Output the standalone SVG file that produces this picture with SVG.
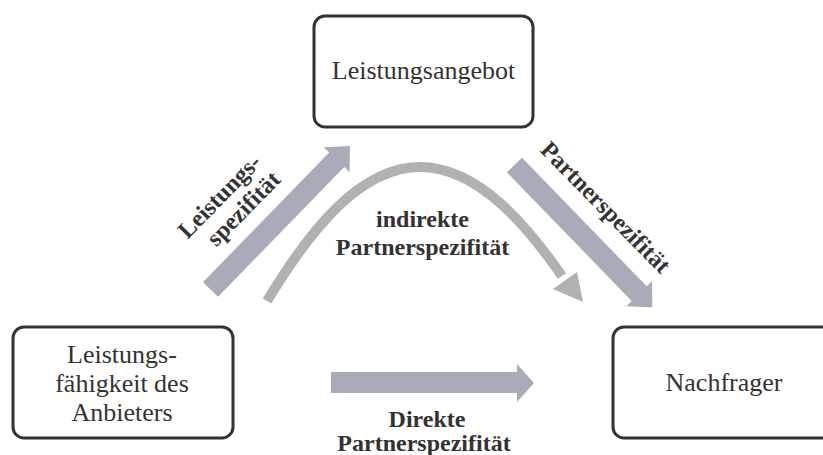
<svg xmlns="http://www.w3.org/2000/svg" width="823" height="455" viewBox="0 0 823 455">
  <style>
    .box { fill: #ffffff; stroke: #333333; stroke-width: 3; }
    .lbl { font-family: 'Liberation Serif', 'DejaVu Serif', 'Times New Roman', serif; font-size: 26px; fill: #333333; text-anchor: middle; }
    .bold { font-family: 'Liberation Serif', 'DejaVu Serif', 'Times New Roman', serif; font-size: 24px; font-weight: bold; fill: #333333; text-anchor: middle; }
    .flow { fill: #a9abb8; }
    .curve { fill: none; stroke: #b1b1b1; stroke-width: 10; }
  </style>
  <defs>
    <!-- block arrow along +x, tail at origin, length 200 -->
    <polygon id="blockArrow" points="0,-10.5 181,-10.5 181,-18 200,0 181,18 181,10.5 0,10.5"/>
  </defs>

  <rect width="823" height="455" fill="#ffffff"/>

  <g id="connectors">
    <!-- Leistungsspezifität -->
    <use href="#blockArrow" class="flow" transform="translate(210.5,289.5) rotate(-45.8)"/>
    <!-- Partnerspezifität -->
    <use href="#blockArrow" class="flow" transform="translate(514.5,165) rotate(45.9) scale(0.99,1)"/>
    <!-- direkte Partnerspezifität -->
    <polygon class="flow" points="331,372 517,372 517,364 534,383 517,402 517,393 331,393"/>
    <!-- indirekte Partnerspezifität -->
    <path class="curve" d="M267,301 C310,230 360,167 420,167 C480,167 530,230 562,276"/>
    <polygon fill="#b1b1b1" points="553,289 577,272 583,302"/>
  </g>

  <g id="leistungsangebot">
    <rect class="box" x="314" y="16" width="219" height="111" rx="11"/>
    <text class="lbl" x="423.5" y="79" font-family="Liberation Serif">Leistungsangebot</text>
  </g>

  <g id="anbieter">
    <rect class="box" x="13" y="327" width="220" height="111" rx="11"/>
    <text class="lbl" x="122" y="363">Leistungs-</text>
    <text class="lbl" x="122" y="392">fähigkeit des</text>
    <text class="lbl" x="122" y="421">Anbieters</text>
  </g>

  <g id="nachfrager">
    <rect class="box" x="613" y="327" width="222" height="111" rx="11"/>
    <text class="lbl" x="724" y="391">Nachfrager</text>
  </g>

  <g id="labels">
    <g transform="translate(232,203) rotate(-45.5)">
      <text class="bold" x="-4" y="-6">Leistungs-</text>
      <text class="bold" x="4" y="20">spezifität</text>
    </g>
    <text class="bold" transform="translate(605,208) rotate(45.5)" x="0" y="7">Partnerspezifität</text>
    <text class="bold" x="422.5" y="227">indirekte</text>
    <text class="bold" x="422.5" y="255">Partnerspezifität</text>
    <text class="bold" x="427" y="427">Direkte</text>
    <text class="bold" x="424" y="451">Partnerspezifität</text>
  </g>
</svg>
